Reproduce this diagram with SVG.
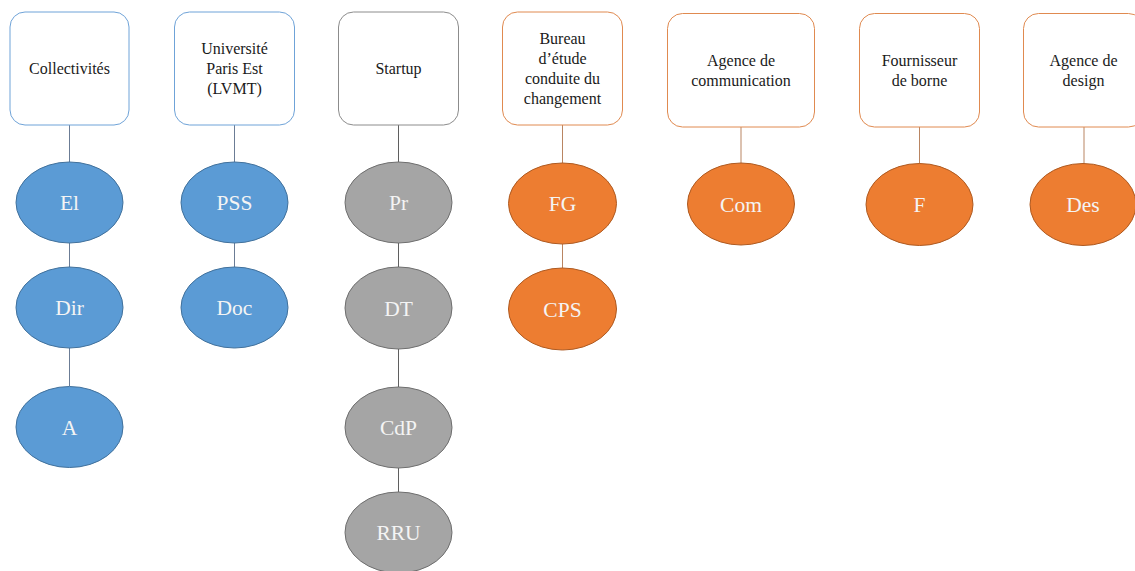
<svg xmlns="http://www.w3.org/2000/svg" width="1135" height="571" viewBox="0 0 1135 571">
<style>
.box{fill:#fff;stroke-width:1;}
.bb{stroke:#6fa3d8;}
.bg{stroke:#8c8c8c;}
.bo{stroke:#e08a50;}
.bt{font-family:"Liberation Serif",serif;font-size:16px;fill:#1a1a1a;text-anchor:middle;}
.el{stroke-width:1;}
.eb{fill:#5b9bd5;stroke:#41719c;}
.eg{fill:#a5a5a5;stroke:#6e6e6e;}
.eo{fill:#ed7d31;stroke:#ae5a21;}
.et{font-family:"Liberation Serif",serif;font-size:21.5px;fill:#f4f4f4;text-anchor:middle;}
.cb{stroke:#6b7c95;stroke-width:1;}
.cg{stroke:#5f5f5f;stroke-width:1;}
.co{stroke:#b98562;stroke-width:1;}
</style>
<rect width="1135" height="571" fill="#fff"/>
<g id="connectors">
<line class="cb" x1="69.5" y1="125" x2="69.5" y2="162"/>
<line class="cb" x1="69.5" y1="243" x2="69.5" y2="267"/>
<line class="cb" x1="69.5" y1="348" x2="69.5" y2="386"/>
<line class="cb" x1="234.5" y1="125" x2="234.5" y2="162"/>
<line class="cb" x1="234.5" y1="243" x2="234.5" y2="267"/>
<line class="cg" x1="398.5" y1="125" x2="398.5" y2="162"/>
<line class="cg" x1="398.5" y1="243" x2="398.5" y2="267"/>
<line class="cg" x1="398.5" y1="349" x2="398.5" y2="387"/>
<line class="cg" x1="398.5" y1="468" x2="398.5" y2="492"/>
<line class="co" x1="562.5" y1="125" x2="562.5" y2="163"/>
<line class="co" x1="562.5" y1="244" x2="562.5" y2="268"/>
<line class="co" x1="741" y1="127" x2="741" y2="163"/>
<line class="co" x1="919.5" y1="127" x2="919.5" y2="164"/>
<line class="co" x1="1084" y1="127" x2="1084" y2="164"/>
</g>
<g id="n-collectivites">
<rect class="box bb" x="10" y="12" width="119" height="113" rx="15"/>
<text class="bt" x="69.5" y="74">Collectivités</text>
</g>
<g id="n-universite">
<rect class="box bb" x="174.5" y="12" width="120" height="113" rx="15"/>
<text class="bt" x="234.5" y="54">Université</text>
<text class="bt" x="234.5" y="74">Paris Est</text>
<text class="bt" x="234.5" y="94">(LVMT)</text>
</g>
<g id="n-startup">
<rect class="box bg" x="338.5" y="12" width="120" height="113" rx="15"/>
<text class="bt" x="398.5" y="74">Startup</text>
</g>
<g id="n-bureau">
<rect class="box bo" x="502.5" y="12" width="120" height="113" rx="15"/>
<text class="bt" x="562.5" y="44">Bureau</text>
<text class="bt" x="562.5" y="64">d’étude</text>
<text class="bt" x="562.5" y="84">conduite du</text>
<text class="bt" x="562.5" y="104">changement</text>
</g>
<g id="n-agence-com">
<rect class="box bo" x="667.5" y="13.5" width="147" height="113.5" rx="15"/>
<text class="bt" x="741" y="66">Agence de</text>
<text class="bt" x="741" y="86">communication</text>
</g>
<g id="n-fournisseur">
<rect class="box bo" x="859.5" y="13.5" width="120" height="113.5" rx="15"/>
<text class="bt" x="919.5" y="66">Fournisseur</text>
<text class="bt" x="919.5" y="86">de borne</text>
</g>
<g id="n-agence-design">
<rect class="box bo" x="1023.5" y="13.5" width="120" height="113.5" rx="15"/>
<text class="bt" x="1083.5" y="66">Agence de</text>
<text class="bt" x="1083.5" y="86">design</text>
</g>
<g id="n-el"><ellipse class="el eb" cx="69.5" cy="202.5" rx="53.5" ry="40.5"/><text class="et" x="69.5" y="210">El</text></g>
<g id="n-dir"><ellipse class="el eb" cx="69.5" cy="307.5" rx="53.5" ry="40.5"/><text class="et" x="69.5" y="315">Dir</text></g>
<g id="n-a"><ellipse class="el eb" cx="69.5" cy="427" rx="53.5" ry="40.5"/><text class="et" x="69.5" y="434.5">A</text></g>
<g id="n-pss"><ellipse class="el eb" cx="234.5" cy="202.5" rx="53.5" ry="40.5"/><text class="et" x="234.5" y="210">PSS</text></g>
<g id="n-doc"><ellipse class="el eb" cx="234.5" cy="307.5" rx="53.5" ry="40.5"/><text class="et" x="234.5" y="315">Doc</text></g>
<g id="n-pr"><ellipse class="el eg" cx="398.5" cy="202.5" rx="53.5" ry="40.5"/><text class="et" x="398.5" y="210">Pr</text></g>
<g id="n-dt"><ellipse class="el eg" cx="398.5" cy="308" rx="53.5" ry="41"/><text class="et" x="398.5" y="315.5">DT</text></g>
<g id="n-cdp"><ellipse class="el eg" cx="398.5" cy="427.5" rx="53.5" ry="40.5"/><text class="et" x="398.5" y="435">CdP</text></g>
<g id="n-rru"><ellipse class="el eg" cx="398.5" cy="532.5" rx="53.5" ry="40.5"/><text class="et" x="398.5" y="540">RRU</text></g>
<g id="n-fg"><ellipse class="el eo" cx="562.5" cy="203.5" rx="54" ry="40.5"/><text class="et" x="562.5" y="211">FG</text></g>
<g id="n-cps"><ellipse class="el eo" cx="562.5" cy="309" rx="54" ry="41"/><text class="et" x="562.5" y="316.5">CPS</text></g>
<g id="n-com"><ellipse class="el eo" cx="741" cy="204" rx="53.5" ry="41"/><text class="et" x="741" y="211.5">Com</text></g>
<g id="n-f"><ellipse class="el eo" cx="919.5" cy="204.5" rx="53.5" ry="41"/><text class="et" x="919.5" y="212">F</text></g>
<g id="n-des"><ellipse class="el eo" cx="1083" cy="204.5" rx="53" ry="41"/><text class="et" x="1083" y="212">Des</text></g>
</svg>
